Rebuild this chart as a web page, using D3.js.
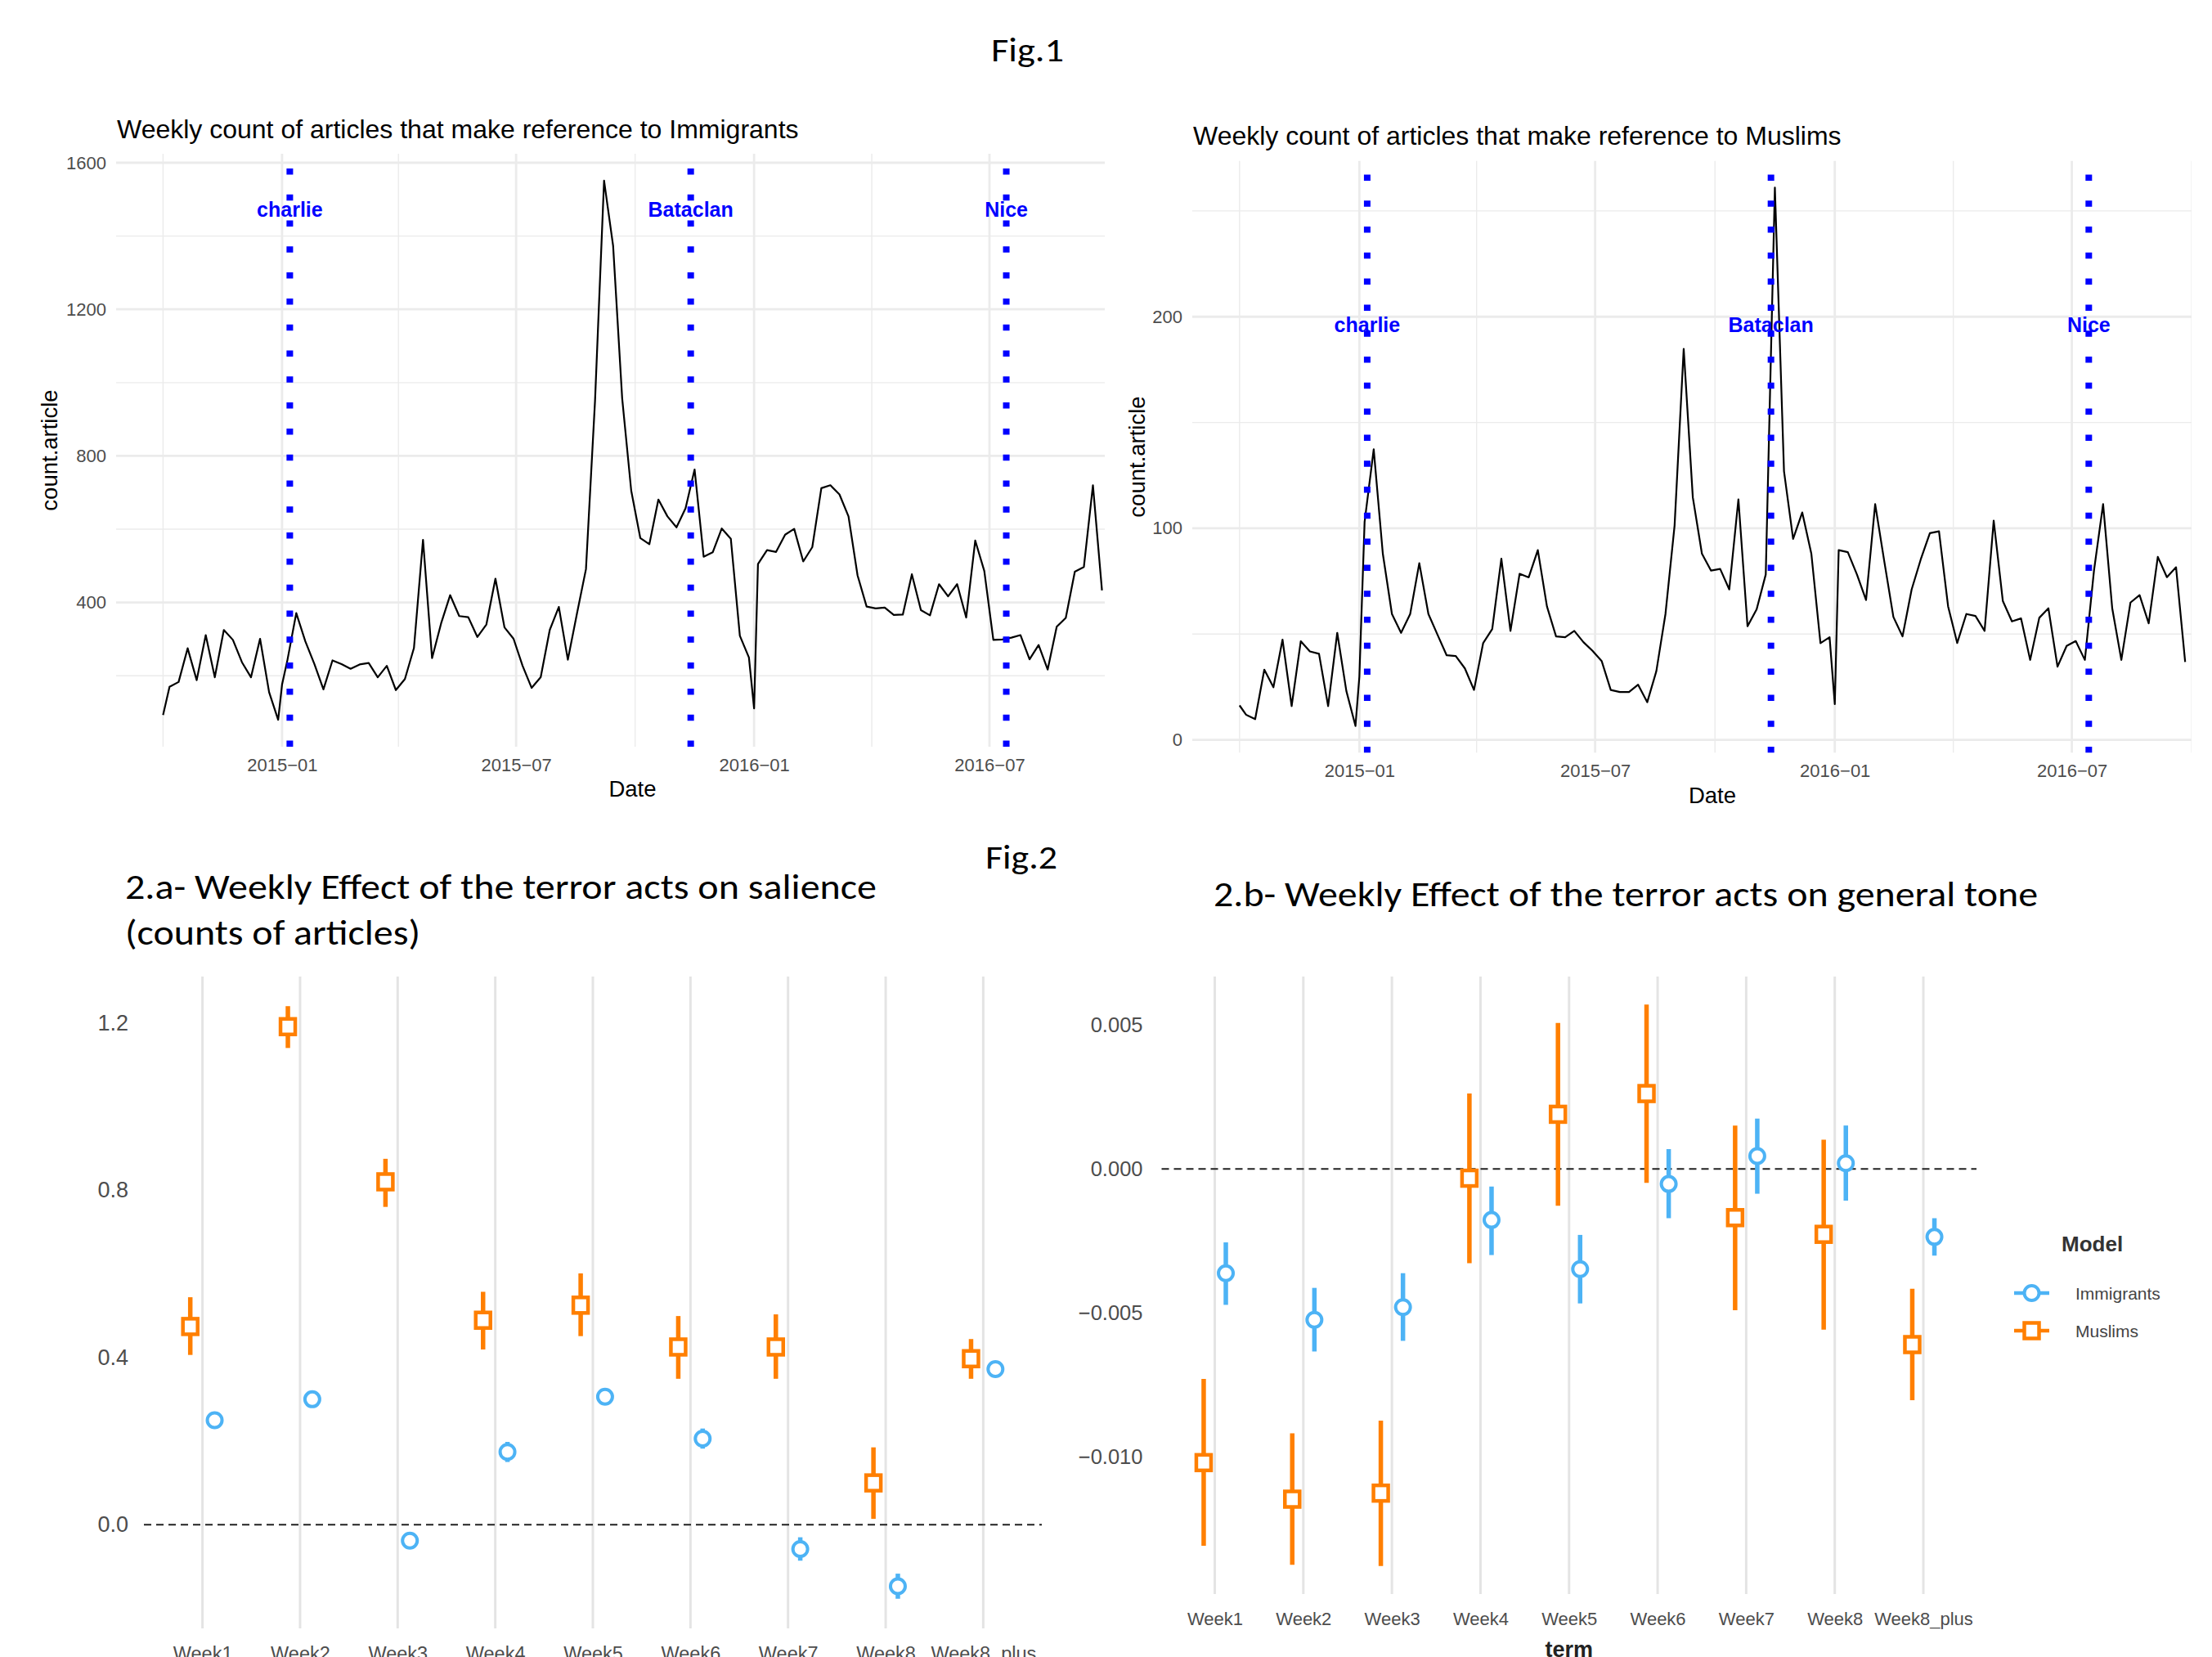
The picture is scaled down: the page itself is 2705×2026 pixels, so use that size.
<!DOCTYPE html>
<html><head><meta charset="utf-8">
<script src="https://cdn.jsdelivr.net/npm/d3@7"></script>
<style>body{margin:0;background:#fff}svg{display:block}</style>
</head><body>
<svg id="c" width="2705" height="2026"></svg>
<script>
// ---------- Fig.1 data ----------
const dates = [
"2014-10-01","2014-10-06","2014-10-13","2014-10-20","2014-10-27","2014-11-03","2014-11-10","2014-11-17","2014-11-24","2014-12-01","2014-12-08","2014-12-15","2014-12-22","2014-12-29",
"2015-01-01","2015-01-05","2015-01-12","2015-01-19","2015-01-26","2015-02-02","2015-02-09","2015-02-16","2015-02-23","2015-03-02","2015-03-09","2015-03-16","2015-03-23","2015-03-30","2015-04-06","2015-04-13","2015-04-20","2015-04-27","2015-05-04","2015-05-11","2015-05-18","2015-05-25","2015-06-01","2015-06-08","2015-06-15","2015-06-22","2015-06-29","2015-07-06","2015-07-13","2015-07-20","2015-07-27","2015-08-03","2015-08-10","2015-08-17","2015-08-24","2015-08-31","2015-09-07","2015-09-14","2015-09-21","2015-09-28","2015-10-05","2015-10-12","2015-10-19","2015-10-26","2015-11-02","2015-11-09","2015-11-16","2015-11-23","2015-11-30","2015-12-07","2015-12-14","2015-12-21","2015-12-28",
"2016-01-01","2016-01-04","2016-01-11","2016-01-18","2016-01-25","2016-02-01","2016-02-08","2016-02-15","2016-02-22","2016-02-29","2016-03-07","2016-03-14","2016-03-21","2016-03-28","2016-04-04","2016-04-11","2016-04-18","2016-04-25","2016-05-02","2016-05-09","2016-05-16","2016-05-23","2016-05-30","2016-06-06","2016-06-13","2016-06-20","2016-06-27","2016-07-04","2016-07-11","2016-07-18","2016-07-25","2016-08-01","2016-08-08","2016-08-15","2016-08-22","2016-08-29","2016-09-05","2016-09-12","2016-09-19","2016-09-26"];

const immigrantsCount = [
93,170,183,275,188,311,196,325,298,237,196,301,155,80,
176,240,371,294,232,163,242,232,219,231,235,196,227,161,191,276,571,248,343,420,363,360,306,340,465,332,301,227,167,196,325,388,244,369,491,950,1551,1373,957,705,576,559,681,635,605,657,763,525,537,602,574,309,250,
111,505,543,538,585,601,512,551,712,720,695,635,474,389,384,386,366,367,477,379,365,450,417,450,359,569,486,298,299,304,311,245,284,217,334,358,484,497,720,433];

const muslimsCount = [
16.3,11.9,9.8,33.2,24.9,47.4,16.0,46.6,41.8,40.7,16.0,50.6,23.1,6.6,
30,103,137.3,88,59.5,50.6,59.5,83.5,59.5,49.7,40,39.6,33.8,23.6,45.7,52.4,85.6,51.5,78.5,76.8,89.7,63.1,48.9,48.5,51.5,46.2,42.1,37.3,23.6,22.6,22.6,26.1,17.8,32.5,59.5,101.3,184.8,114.6,88,80,80.8,71.1,113.7,53.7,61.7,78.2,261,127,95,107.5,88,45.7,48.5,
16.9,89.7,88.7,78.2,66.1,111.4,84.4,58.1,48.9,71.1,85.3,97.7,98.6,63.1,45.8,59.5,58.6,51.5,103.6,65.7,56,57.4,37.8,57.7,62.2,34.6,44.4,46.7,37.8,80,111.4,62.2,37.8,64.9,68.4,55.1,86.5,76.9,81.6,36.8];

const eventNames = ["charlie","Bataclan","Nice"];
const eventDates = ["2015-01-07","2015-11-13","2016-07-14"];
const eventLabelImmigrants = 1473;
const eventLabelMuslims = 196;

const dateTicks = ["2015-01-01","2015-07-01","2016-01-01","2016-07-01"];
const dateTickLabels = ["2015\u221201","2015\u221207","2016\u221201","2016\u221207"];
const dateMinorTicks = ["2014-10-01","2015-04-01","2015-10-01","2016-04-01","2016-10-01"];
const immTicks = [400,800,1200,1600];
const immMinorTicks = [200,600,1000,1400];
const musTicks = [0,100,200];
const musMinorTicks = [50,150,250];

// ---------- Fig.2 data ----------
const terms = ["Week1","Week2","Week3","Week4","Week5","Week6","Week7","Week8","Week8_plus"];

const salienceMuslims      = [0.474,1.191,0.820,0.489,0.525,0.425,0.425,0.100,0.397];
const salienceMuslimsLow   = [0.406,1.140,0.760,0.419,0.451,0.349,0.349,0.014,0.349];
const salienceMuslimsHigh  = [0.544,1.240,0.875,0.557,0.601,0.499,0.503,0.185,0.444];
const salienceImmigrants     = [0.250,0.300,-0.038,0.174,0.306,0.206,-0.058,-0.147,0.372];
const salienceImmigrantsLow  = [0.238,0.288,-0.058,0.150,0.294,0.182,-0.086,-0.177,0.360];
const salienceImmigrantsHigh = [0.262,0.312,-0.018,0.198,0.318,0.230,-0.030,-0.117,0.384];
const salienceTicks = [0,0.4,0.8,1.2];
const salienceTickLabels = ["0.0","0.4","0.8","1.2"];

const toneMuslims      = [-0.01020,-0.01147,-0.01126,-0.00032,0.00190,0.00262,-0.00169,-0.00227,-0.00610];
const toneMuslimsLow   = [-0.01309,-0.01375,-0.01379,-0.00327,-0.00128,-0.00048,-0.00491,-0.00558,-0.00803];
const toneMuslimsHigh  = [-0.00729,-0.00918,-0.00874,0.00262,0.00507,0.00571,0.00151,0.00102,-0.00416];
const toneImmigrants     = [-0.00362,-0.00524,-0.00480,-0.00177,-0.00348,-0.00052,0.00045,0.00020,-0.00236];
const toneImmigrantsLow  = [-0.00472,-0.00634,-0.00597,-0.00299,-0.00467,-0.00171,-0.00086,-0.00110,-0.00301];
const toneImmigrantsHigh = [-0.00255,-0.00413,-0.00362,-0.00061,-0.00229,0.00069,0.00175,0.00151,-0.00171];
const toneTicks = [-0.010,-0.005,0,0.005];
const toneTickLabels = ["\u22120.010","\u22120.005","0.000","0.005"];

const modelNames = ["Immigrants","Muslims"];
const modelColors = ["#4DB3F5","#FF7F00"];

// ---------- drawing ----------
const FONT = "'Liberation Sans', Arial, Helvetica, sans-serif";
const CAL = "Carlito, Calibri, Lato, 'Open Sans', sans-serif";
const svg = d3.select("#c");
svg.append("rect").attr("width",2705).attr("height",2026).attr("fill","#fff");
const parse = d3.utcParse("%Y-%m-%d");

function calText(x, y, size, len, str) {
  svg.append("text").attr("x",x).attr("y",y).attr("font-family",CAL).attr("font-size",size)
    .attr("textLength",len).attr("lengthAdjust","spacingAndGlyphs").attr("fill","#000").text(str);
}
calText(1212, 75, 41, 89, "Fig.1");
calText(1205, 1062, 41, 88, "Fig.2");
calText(153, 1099, 43, 919, "2.a- Weekly Effect of the terror acts on salience");
calText(153, 1155, 43, 361, "(counts of articles)");
calText(1484, 1108, 43, 1008, "2.b- Weekly Effect of the terror acts on general tone");

function timeChart(cfg) {
  const pts = dates.map((d,i)=>({date:parse(d), v:cfg.values[i]}));
  const dx = d3.extent(pts, p=>p.date);
  const pad = (dx[1]-dx[0])*0.05;
  const x = d3.scaleUtc().domain([new Date(+dx[0]-pad), new Date(+dx[1]+pad)]).range([cfg.left, cfg.right]);
  const ve = d3.extent(cfg.values); const vp = (ve[1]-ve[0])*0.05;
  const y = d3.scaleLinear().domain([ve[0]-vp, ve[1]+vp]).range([cfg.bottom, cfg.top]);
  const cid = "clip"+cfg.id;
  svg.append("clipPath").attr("id",cid).append("rect")
    .attr("x",cfg.left).attr("y",cfg.top).attr("width",cfg.clipRight-cfg.left).attr("height",cfg.bottom-cfg.top);
  const g = svg.append("g").attr("clip-path",`url(#${cid})`);
  // minor grid
  g.selectAll(null).data(cfg.yMinor).join("line")
    .attr("x1",cfg.left).attr("x2",cfg.right).attr("y1",d=>y(d)).attr("y2",d=>y(d))
    .attr("stroke","#EBEBEB").attr("stroke-width",1.4);
  g.selectAll(null).data(dateMinorTicks.map(parse)).join("line")
    .attr("x1",d=>x(d)).attr("x2",d=>x(d)).attr("y1",cfg.top).attr("y2",cfg.bottom)
    .attr("stroke","#EBEBEB").attr("stroke-width",1.4);
  // major grid
  g.selectAll(null).data(cfg.yTicks).join("line")
    .attr("x1",cfg.left).attr("x2",cfg.right).attr("y1",d=>y(d)).attr("y2",d=>y(d))
    .attr("stroke","#EBEBEB").attr("stroke-width",2.8);
  g.selectAll(null).data(dateTicks.map(parse)).join("line")
    .attr("x1",d=>x(d)).attr("x2",d=>x(d)).attr("y1",cfg.top).attr("y2",cfg.bottom)
    .attr("stroke","#EBEBEB").attr("stroke-width",2.8);
  // series
  g.append("path").datum(pts)
    .attr("d", d3.line().x(p=>x(p.date)).y(p=>y(p.v)))
    .attr("fill","none").attr("stroke","#000").attr("stroke-width",2.2).attr("stroke-linejoin","round");
  // events
  g.selectAll(null).data(eventDates.map(parse)).join("line")
    .attr("x1",d=>x(d)).attr("x2",d=>x(d)).attr("y1",cfg.bottom).attr("y2",cfg.top)
    .attr("stroke","#0000FF").attr("stroke-width",8).attr("stroke-dasharray","7.5 24.3");
  g.selectAll(null).data(eventNames).join("text")
    .attr("x",(d,i)=>x(parse(eventDates[i]))).attr("y",y(cfg.labelValue)).attr("dy","0.35em")
    .attr("text-anchor","middle").attr("font-family",FONT).attr("font-weight","bold")
    .attr("font-size",25).attr("fill","#0000FF").text(d=>d);
  // axes
  const xa = svg.append("g").attr("transform",`translate(0,${cfg.bottom})`)
    .call(d3.axisBottom(x).tickValues(dateTicks.map(parse)).tickFormat((d,i)=>dateTickLabels[i]).tickSize(0).tickPadding(14));
  xa.select(".domain").remove();
  xa.selectAll("text").attr("font-family",FONT).attr("font-size",22).attr("fill","#4D4D4D");
  const ya = svg.append("g").attr("transform",`translate(${cfg.left},0)`)
    .call(d3.axisLeft(y).tickValues(cfg.yTicks).tickFormat(d3.format("d")).tickSize(0).tickPadding(12));
  ya.select(".domain").remove();
  ya.selectAll("text").attr("font-family",FONT).attr("font-size",22).attr("fill","#4D4D4D");
  // titles
  svg.append("text").attr("x",cfg.left+1).attr("y",cfg.titleY).attr("font-family",FONT)
    .attr("font-size",32).attr("fill","#000").text(cfg.title);
  svg.append("text").attr("x",(cfg.left+cfg.right)/2).attr("y",cfg.bottom+61).attr("text-anchor","middle")
    .attr("font-family",FONT).attr("font-size",27.5).attr("fill","#000").text("Date");
  svg.append("text").attr("transform",`translate(${cfg.ylabX},${(cfg.top+cfg.bottom)/2}) rotate(-90)`)
    .attr("dy","0.35em").attr("text-anchor","middle").attr("font-family",FONT).attr("font-size",27.5)
    .attr("fill","#000").text("count.article");
}

timeChart({id:"a", values:immigrantsCount, left:142, right:1405, clipRight:1351, top:188, bottom:913,
  yTicks:immTicks, yMinor:immMinorTicks, labelValue:eventLabelImmigrants, titleY:169, ylabX:60,
  title:"Weekly count of articles that make reference to Immigrants"});
timeChart({id:"b", values:muslimsCount, left:1458, right:2730, clipRight:2680, top:196.5, bottom:920.5,
  yTicks:musTicks, yMinor:musMinorTicks, labelValue:eventLabelMuslims, titleY:177, ylabX:1390,
  title:"Weekly count of articles that make reference to Muslims"});

function effectChart(cfg) {
  const x = d3.scalePoint().domain(terms).range([cfg.left, cfg.right]).padding(0.6);
  const all = cfg.series.flatMap(s=>[...s.lo, ...s.hi]);
  const e = d3.extent(all), r = e[1]-e[0];
  const y = d3.scaleLinear().domain([e[0]-0.05*r, e[1]+0.05*r]).range([cfg.bottom, cfg.top]);
  svg.selectAll(null).data(terms).join("line")
    .attr("x1",d=>x(d)).attr("x2",d=>x(d)).attr("y1",cfg.top).attr("y2",cfg.bottom)
    .attr("stroke","#E4E4E4").attr("stroke-width",3);
  svg.append("line").attr("x1",cfg.left).attr("x2",cfg.right).attr("y1",y(0)).attr("y2",y(0))
    .attr("stroke","#222").attr("stroke-width",2).attr("stroke-dasharray","9 6");
  cfg.series.forEach(s=>{
    const off = s.dodge * x.step() * 0.125;
    svg.selectAll(null).data(terms).join("line")
      .attr("x1",d=>x(d)+off).attr("x2",d=>x(d)+off)
      .attr("y1",(d,i)=>y(s.lo[i])).attr("y2",(d,i)=>y(s.hi[i]))
      .attr("stroke",s.color).attr("stroke-width",5.5);
    if (s.shape==="circle") {
      svg.selectAll(null).data(terms).join("circle")
        .attr("cx",d=>x(d)+off).attr("cy",(d,i)=>y(s.est[i])).attr("r",9)
        .attr("fill","#fff").attr("stroke",s.color).attr("stroke-width",4);
    } else {
      svg.selectAll(null).data(terms).join("rect")
        .attr("x",d=>x(d)+off-9).attr("y",(d,i)=>y(s.est[i])-9.5).attr("width",18).attr("height",19)
        .attr("fill","#fff").attr("stroke",s.color).attr("stroke-width",4.5);
    }
  });
  const xa = svg.append("g").attr("transform",`translate(0,${cfg.bottom})`)
    .call(d3.axisBottom(x).tickSize(0).tickPadding(22));
  xa.select(".domain").remove();
  xa.selectAll("text").attr("font-family",FONT).attr("font-size",cfg.xFont).attr("fill","#4D4D4D");
  const ya = svg.append("g").attr("transform",`translate(${cfg.left},0)`)
    .call(d3.axisLeft(y).tickValues(cfg.ticks).tickFormat((d,i)=>cfg.tickLabels[i]).tickSize(0).tickPadding(cfg.yPad));
  ya.select(".domain").remove();
  ya.selectAll("text").attr("font-family",FONT).attr("font-size",cfg.yFont).attr("fill","#4D4D4D");
  return {x,y};
}

effectChart({left:176, right:1274, top:1194, bottom:1991, xFont:23.5, yFont:27, yPad:19,
  ticks:salienceTicks, tickLabels:salienceTickLabels,
  series:[
    {est:salienceMuslims, lo:salienceMuslimsLow, hi:salienceMuslimsHigh, color:modelColors[1], shape:"square", dodge:-1},
    {est:salienceImmigrants, lo:salienceImmigrantsLow, hi:salienceImmigrantsHigh, color:modelColors[0], shape:"circle", dodge:1}
  ]});
effectChart({left:1420.5, right:2417, top:1194, bottom:1949, xFont:22, yFont:25.5, yPad:23,
  ticks:toneTicks, tickLabels:toneTickLabels,
  series:[
    {est:toneMuslims, lo:toneMuslimsLow, hi:toneMuslimsHigh, color:modelColors[1], shape:"square", dodge:-1},
    {est:toneImmigrants, lo:toneImmigrantsLow, hi:toneImmigrantsHigh, color:modelColors[0], shape:"circle", dodge:1}
  ]});
svg.append("text").attr("x",1918.8).attr("y",2026).attr("text-anchor","middle").attr("font-family",FONT)
  .attr("font-size",27).attr("font-weight","bold").attr("fill","#222").text("term");

// legend
const lg = svg.append("g");
lg.append("text").attr("x",2521).attr("y",1530).attr("font-family",FONT).attr("font-size",26)
  .attr("font-weight","bold").attr("fill","#333").text("Model");
modelNames.forEach((m,i)=>{
  const cy = 1581 + i*46;
  lg.append("line").attr("x1",2463).attr("x2",2506).attr("y1",cy).attr("y2",cy)
    .attr("stroke",modelColors[i]).attr("stroke-width",4.5);
  if (i===0) lg.append("circle").attr("cx",2484.5).attr("cy",cy).attr("r",9).attr("fill","#fff")
    .attr("stroke",modelColors[i]).attr("stroke-width",4);
  else lg.append("rect").attr("x",2475.5).attr("y",cy-9.5).attr("width",18).attr("height",19).attr("fill","#fff")
    .attr("stroke",modelColors[i]).attr("stroke-width",4.5);
  lg.append("text").attr("x",2538).attr("y",cy+7.5).attr("font-family",FONT).attr("font-size",21)
    .attr("fill","#444").text(m);
});
</script>
</body></html>
